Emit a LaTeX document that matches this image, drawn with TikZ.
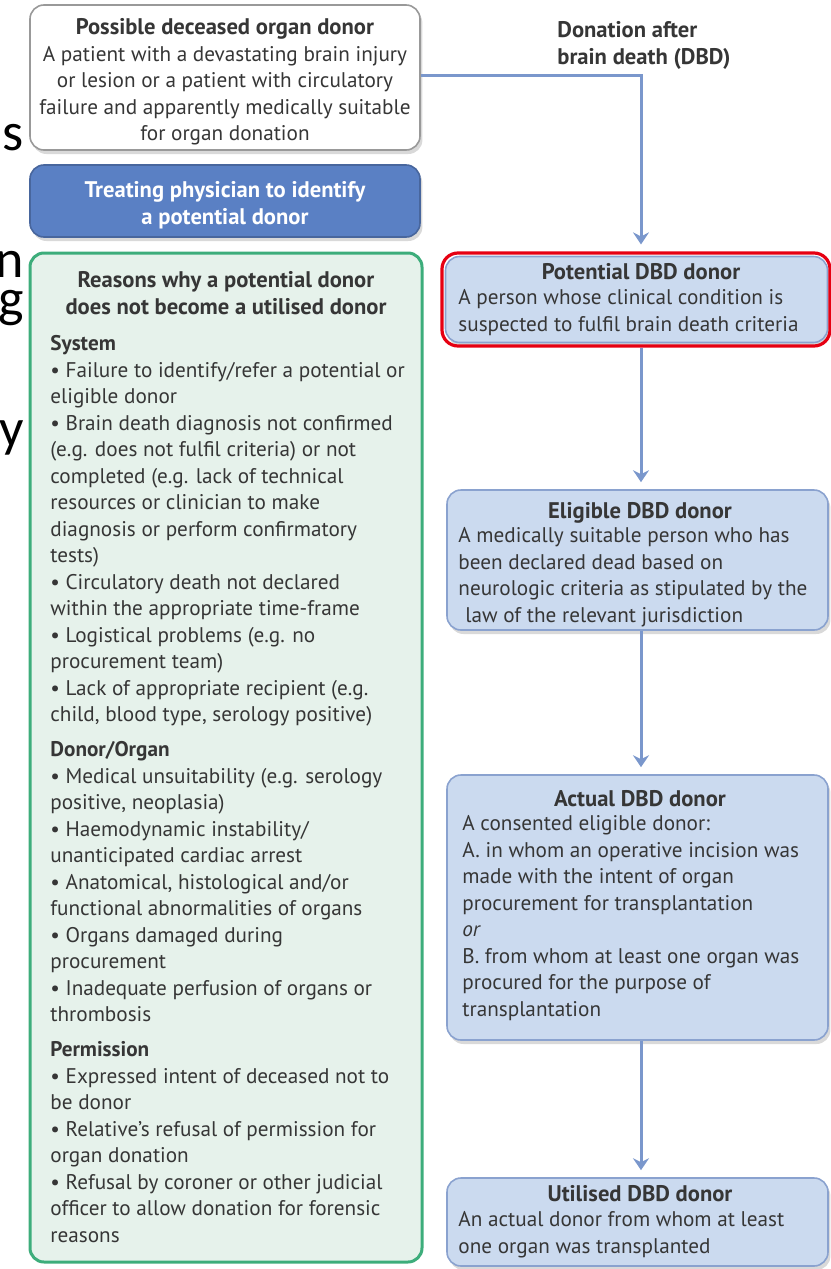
\documentclass[tikz,border=0pt]{standalone}
\usepackage{fontspec}
\setmainfont{PT Sans}
\newfontfamily\slidefont{Carlito}
\usetikzlibrary{arrows.meta,shadows}

\definecolor{flowblue}{HTML}{7A97CC}
\definecolor{boxblue}{HTML}{CBDAEF}
\definecolor{boxedge}{HTML}{8AA2CF}
\definecolor{darkblue}{HTML}{5A80C4}
\definecolor{reasonfill}{HTML}{E6F2EB}
\definecolor{reasonedge}{HTML}{3DAD7B}
\definecolor{txtgray}{HTML}{363636}
\definecolor{hilite}{HTML}{E60012}

\newcommand{\hd}[1]{{\fontsize{11.3}{13.25}\selectfont\bfseries #1}}

\tikzset{
  box/.style={rounded corners=7pt, line width=0.8pt, inner sep=0pt,
    drop shadow={opacity=0.3, shadow xshift=1.2pt, shadow yshift=-2pt}},
  whitebox/.style={box, draw=gray!80, fill=white},
  physbox/.style={box, draw=darkblue!80!black, fill=darkblue},
  reasonbox/.style={rounded corners=7pt, inner sep=0pt, line width=1.5pt,
    draw=reasonedge, fill=reasonfill},
  dbdbox/.style={box, draw=boxedge, fill=boxblue},
  redframe/.style={rounded corners=8pt, inner sep=0pt, line width=1.6pt, draw=hilite},
  txt/.style={font=\fontsize{10.6}{13.25}\selectfont, text=txtgray, inner sep=0pt, align=left},
  bodytxt/.style={txt, anchor=north west, yshift=7.8pt, execute at begin node=\strut},
  ctrtxt/.style={txt, align=center, anchor=north, yshift=7.8pt, execute at begin node=\strut},
  flow/.style={draw=flowblue, line width=1.5pt,
    -{Stealth[width=8pt, length=6pt, inset=2pt]}, shorten >=3.5pt},
  slideletter/.style={font=\slidefont\fontsize{27}{30}\selectfont, inner sep=0pt, text=black}
}

\begin{document}
\begin{tikzpicture}[x=0.5pt, y=-0.5pt]
  \useasboundingbox (0,0) rectangle (830,1269);

  % left column
  \node[whitebox, minimum width=195pt, minimum height=72.5pt] (possible) at (225,77.5) {};
  \node[ctrtxt] (possibletxt) at (225,34)
    {\hd{Possible deceased organ donor}\\
     A patient with a devastating brain injury\\
     or lesion or a patient with circulatory\\
     failure and apparently medically suitable\\
     for organ donation};

  \node[physbox, minimum width=195pt, minimum height=36pt] (physician) at (225,201) {};
  \node[ctrtxt, text=white] (physiciantxt) at (225,197)
    {\hd{Treating physician to identify}\\\hd{a potential donor}};

  \node[reasonbox, minimum width=196pt, minimum height=504.5pt] (reasons) at (226,757.5) {};
  \node[ctrtxt] (reasonstitle) at (226,287)
    {\hd{Reasons why a potential donor}\\\hd{does not become a utilised donor}};
  \node[bodytxt] (reasonlist) at (50,351)
    {\textbf{System}\\
     • Failure to identify/refer a potential or\\
     eligible donor\\
     • Brain death diagnosis not confirmed\\
     (e.g. does not fulfil criteria) or not\\
     completed (e.g. lack of technical\\
     resources or clinician to make\\
     diagnosis or perform confirmatory\\
     tests)\\
     • Circulatory death not declared\\
     within the appropriate time-frame\\
     • Logistical problems (e.g. no\\
     procurement team)\\
     • Lack of appropriate recipient (e.g.\\
     child, blood type, serology positive)\\[4.25pt]
     \textbf{Donor/Organ}\\
     • Medical unsuitability (e.g. serology\\
     positive, neoplasia)\\
     • Haemodynamic instability/\\
     unanticipated cardiac arrest\\
     • Anatomical, histological and/or\\
     functional abnormalities of organs\\
     • Organs damaged during\\
     procurement\\
     • Inadequate perfusion of organs or\\
     thrombosis\\[4.25pt]
     \textbf{Permission}\\
     • Expressed intent of deceased not to\\
     be donor\\
     • Relative’s refusal of permission for\\
     organ donation\\
     • Refusal by coroner or other judicial\\
     officer to allow donation for forensic\\
     reasons};

  % right column
  \node[bodytxt] (dbdlabel) at (557,37)
    {\hd{Donation after}\\\hd{brain death (DBD)}};

  \node[dbdbox, minimum width=191pt, minimum height=43pt] (potential) at (636.5,299.5) {};
  \node[redframe, minimum width=194pt, minimum height=46.5pt] (potframe) at (636,299.5) {};
  \node[txt, anchor=base] (pottitle) at (641,279) {\hd{Potential DBD donor}};
  \node[bodytxt] (potbody) at (458,305)
    {A person whose clinical condition is\\
     suspected to fulfil brain death criteria};

  \node[dbdbox, minimum width=190.5pt, minimum height=70pt] (eligible) at (637.5,560) {};
  \node[txt, anchor=base] (eligtitle) at (640,518) {\hd{Eligible DBD donor}};
  \node[bodytxt] (eligbody) at (458,543)
    {A medically suitable person who has\\
     been declared dead based on\\
     neurologic criteria as stipulated by the\\
     \hspace{3.5pt}law of the relevant jurisdiction};

  \node[dbdbox, minimum width=190.5pt, minimum height=132.5pt] (actual) at (637.5,907.5) {};
  \node[txt, anchor=base] (actualtitle) at (640,806) {\hd{Actual DBD donor}};
  \node[bodytxt] (actualbody) at (462,831)
    {A consented eligible donor:\\
     A. in whom an operative incision was\\
     made with the intent of organ\\
     procurement for transplantation\\
     \textit{or}\\
     B. from whom at least one organ was\\
     procured for the purpose of\\
     transplantation};

  \node[dbdbox, minimum width=190.5pt, minimum height=44pt] (utilised) at (637.5,1222) {};
  \node[txt, anchor=base] (utiltitle) at (640,1201) {\hd{Utilised DBD donor}};
  \node[bodytxt] (utilbody) at (458,1227)
    {An actual donor from whom at least\\
     one organ was transplanted};

  % connectors
  \coordinate (turn) at (641,75);
  \draw[flow] (possible.east |- turn) -- (turn) -- (potframe.north -| turn);
  \draw[flow] (potframe.south -| turn) -- (eligible.north -| turn);
  \draw[flow] (eligible.south -| turn) -- (actual.north -| turn);
  \draw[flow] (actual.south -| turn) -- (utilised.north -| turn);

  % slide letters at the left edge
  \foreach \ch/\y/\nm in {s/150/a, n/277/b, g/316/c, y/446/d}
    \node[slideletter, anchor=base east] (slide\nm) at (24,\y) {\ch};
\end{tikzpicture}
\end{document}
